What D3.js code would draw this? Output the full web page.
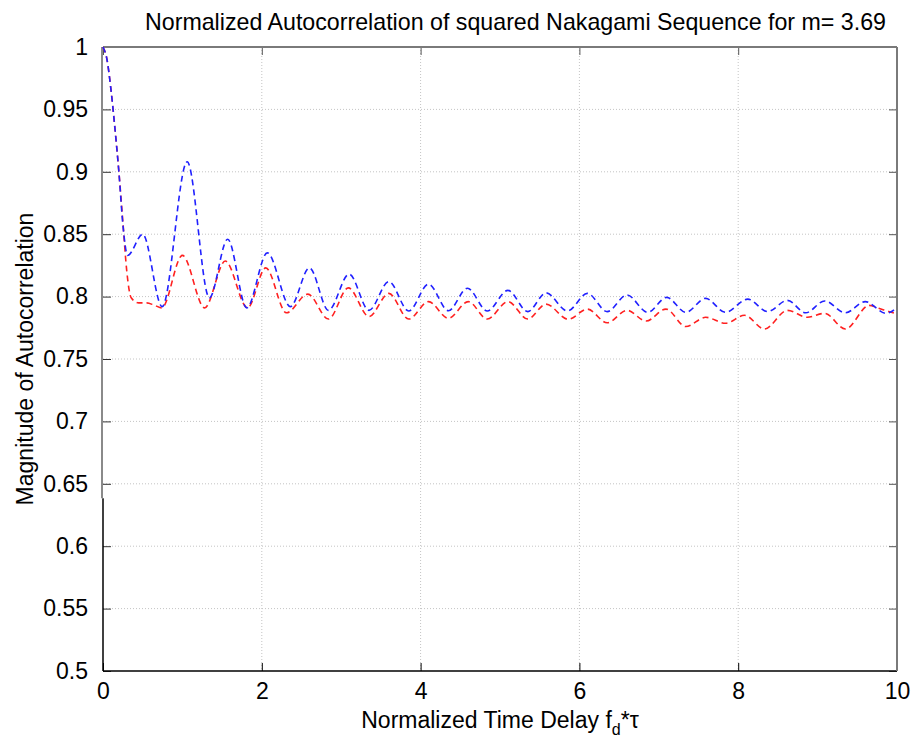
<!DOCTYPE html>
<html>
<head>
<meta charset="utf-8">
<script src="https://cdn.jsdelivr.net/npm/d3@7"></script>
<style>
  body { margin: 0; background: #fff; }
  text { font-family: "Liberation Sans", Arial, sans-serif; fill: #000; }
</style>
</head>
<body>
<div id="chart"></div>
<script>
// data
const blueLag = [0, 0.05, 0.1, 0.15, 0.2, 0.25, 0.31, 0.5, 0.745, 1.06, 1.34, 1.57, 1.81, 2.07, 2.36, 2.6, 2.84, 3.1, 3.35, 3.6, 3.85, 4.1, 4.35, 4.59, 4.84, 5.1, 5.35, 5.58, 5.85, 6.1, 6.35, 6.6, 6.86, 7.1, 7.34, 7.59, 7.84, 8.12, 8.37, 8.62, 8.85, 9.09, 9.35, 9.6, 9.86, 10];
const blueVals = [1, 0.99, 0.966, 0.935, 0.9, 0.858, 0.833, 0.85, 0.792, 0.908, 0.799, 0.846, 0.791, 0.835, 0.792, 0.823, 0.789, 0.818, 0.789, 0.812, 0.7885, 0.81, 0.7887, 0.8067, 0.7885, 0.805, 0.788, 0.803, 0.7885, 0.8026, 0.788, 0.8013, 0.7874, 0.7994, 0.7874, 0.7986, 0.7874, 0.798, 0.788, 0.797, 0.787, 0.7965, 0.787, 0.796, 0.7866, 0.791];

const redLag = [0, 0.05, 0.1, 0.15, 0.2, 0.25, 0.3, 0.355, 0.45, 0.55, 0.65, 0.74, 1.0, 1.28, 1.54, 1.82, 2.05, 2.31, 2.58, 2.84, 3.09, 3.35, 3.6, 3.85, 4.1, 4.35, 4.6, 4.84, 5.1, 5.35, 5.58, 5.86, 6.1, 6.35, 6.6, 6.84, 7.09, 7.34, 7.59, 7.84, 8.08, 8.33, 8.62, 8.87, 9.09, 9.35, 9.65, 9.77, 10];
const redVals = [1, 0.99, 0.966, 0.935, 0.9, 0.86, 0.82, 0.799, 0.795, 0.795, 0.793, 0.791, 0.833, 0.791, 0.8285, 0.791, 0.823, 0.787, 0.802, 0.782, 0.807, 0.784, 0.8026, 0.782, 0.796, 0.7826, 0.796, 0.782, 0.796, 0.782, 0.794, 0.7818, 0.79, 0.779, 0.789, 0.7804, 0.79, 0.776, 0.7834, 0.7786, 0.785, 0.774, 0.789, 0.7834, 0.7866, 0.774, 0.793, 0.7906, 0.786];

const xTicks = [0, 2, 4, 6, 8, 10];
const yTicks = [0.5, 0.55, 0.6, 0.65, 0.7, 0.75, 0.8, 0.85, 0.9, 0.95, 1];

const width = 914, height = 747;
const margin = {top: 47, right: 17, bottom: 76, left: 103};
const innerW = width - margin.left - margin.right;
const innerH = height - margin.top - margin.bottom;

const svg = d3.select("#chart").append("svg")
    .attr("width", width)
    .attr("height", height);

const g = svg.append("g")
    .attr("transform", `translate(${margin.left},${margin.top})`);

const x = d3.scaleLinear().domain([0, 10]).range([0, innerW]);
const y = d3.scaleLinear().domain([0.5, 1]).range([innerH, 0]);

// grid
g.append("g").selectAll("line")
    .data(xTicks.slice(1, -1))
    .enter().append("line")
    .attr("x1", d => x(d)).attr("x2", d => x(d))
    .attr("y1", 0).attr("y2", innerH)
    .style("stroke", "#c4c4c4")
    .style("stroke-dasharray", "1,2");

g.append("g").selectAll("line")
    .data(yTicks.slice(1, -1))
    .enter().append("line")
    .attr("x1", 0).attr("x2", innerW)
    .attr("y1", d => y(d)).attr("y2", d => y(d))
    .style("stroke", "#c4c4c4")
    .style("stroke-dasharray", "1,2");

// axes (ticks point inward, like matlab)
const tickLen = 8;
const tickFont = "23px";
g.append("g")
    .attr("transform", `translate(0,${innerH})`)
    .call(d3.axisBottom(x).tickValues(xTicks).tickSize(-tickLen).tickPadding(tickLen + 4).tickFormat(d3.format("d")))
    .call(a => a.select(".domain").remove())
    .call(a => a.selectAll("line").style("stroke", "#000"))
    .call(a => a.selectAll("text").style("font-size", tickFont).style("font-family", "Liberation Sans, Arial, sans-serif"));

g.append("g")
    .call(d3.axisLeft(y).tickValues(yTicks).tickSize(-tickLen).tickPadding(tickLen + 7).tickFormat(d => d3.format("")(+d.toFixed(2))))
    .call(a => a.select(".domain").remove())
    .call(a => a.selectAll("line").style("stroke", "#333"))
    .call(a => a.selectAll("text").style("font-size", tickFont).style("font-family", "Liberation Sans, Arial, sans-serif"));

g.append("g")
    .call(d3.axisTop(x).tickValues(xTicks).tickSize(-tickLen).tickFormat(""))
    .call(a => a.select(".domain").remove())
    .call(a => a.selectAll("line").style("stroke", "#555"));

g.append("g")
    .attr("transform", `translate(${innerW},0)`)
    .call(d3.axisRight(y).tickValues(yTicks).tickSize(-tickLen).tickFormat(""))
    .call(a => a.select(".domain").remove())
    .call(a => a.selectAll("line").style("stroke", "#555"));

// frame: top, right and upper-left edge look grey in the picture
g.append("line").attr("x1", 0).attr("x2", innerW).attr("y1", innerH).attr("y2", innerH)
    .style("stroke", "#000").style("stroke-width", 1.5);
g.append("line").attr("x1", 0).attr("x2", innerW).attr("y1", 0).attr("y2", 0)
    .style("stroke", "#7a7a7a").style("stroke-width", 2);
g.append("line").attr("x1", innerW).attr("x2", innerW).attr("y1", 0).attr("y2", innerH)
    .style("stroke", "#7a7a7a").style("stroke-width", 2);
g.append("line").attr("x1", 0).attr("x2", 0).attr("y1", y(0.6385)).attr("y2", innerH)
    .style("stroke", "#000").style("stroke-width", 1.5);
g.append("line").attr("x1", -1).attr("x2", -1).attr("y1", 0).attr("y2", y(0.6385))
    .style("stroke", "#8a8a8a").style("stroke-width", 2);

// curves
const line = d3.line()
    .x(d => x(d[0]))
    .y(d => y(d[1]))
    .curve(d3.curveMonotoneX);

const series = [
    {lag: redLag, vals: redVals, color: "#ff2020"},
    {lag: blueLag, vals: blueVals, color: "#2020ff"}
];

series.forEach(s => {
    g.append("path")
        .datum(s.lag.map((l, i) => [l, s.vals[i]]))
        .attr("d", line)
        .style("fill", "none")
        .style("stroke", s.color)
        .style("stroke-width", 1.6)
        .style("stroke-dasharray", "6,4");
});

// title and labels
svg.append("text")
    .attr("x", 145).attr("y", 30)
    .attr("textLength", 741)
    .attr("lengthAdjust", "spacingAndGlyphs")
    .style("font-size", "24px")
    .text("Normalized Autocorrelation of squared Nakagami Sequence for m= 3.69");

const xl = svg.append("text")
    .attr("x", margin.left + innerW / 2).attr("y", 728)
    .attr("text-anchor", "middle")
    .style("font-size", "23px");
xl.append("tspan").text("Normalized Time Delay f");
xl.append("tspan").attr("dy", 7).style("font-size", "16px").text("d");
xl.append("tspan").attr("dy", -7).text("*\u03C4");

svg.append("text")
    .attr("transform", `translate(33,${margin.top + innerH / 2}) rotate(-90)`)
    .attr("text-anchor", "middle")
    .style("font-size", "23px")
    .text("Magnitude of Autocorrelation");
</script>
</body>
</html>
